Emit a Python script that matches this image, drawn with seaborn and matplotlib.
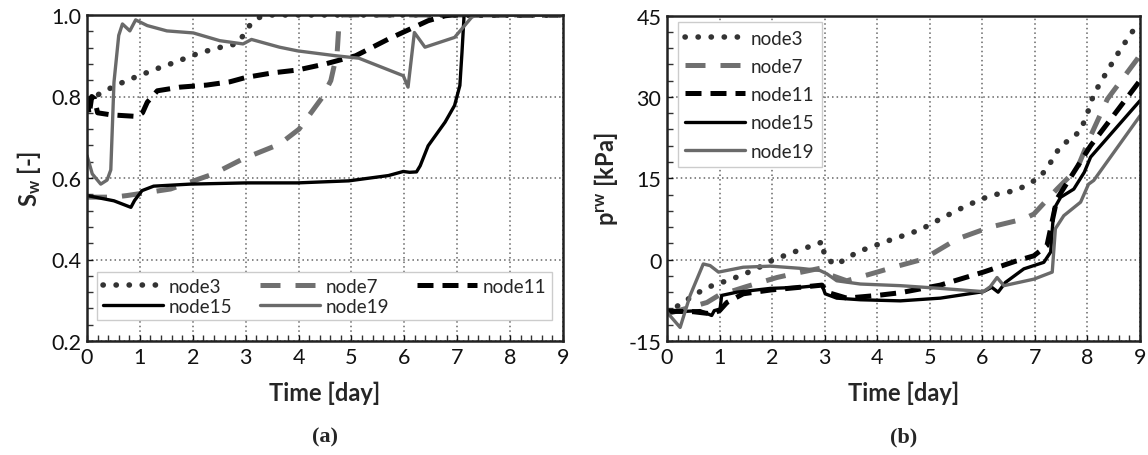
import numpy as np
import pandas as pd
import matplotlib
matplotlib.use("Agg")
import matplotlib.pyplot as plt
from matplotlib.ticker import MultipleLocator
import seaborn as sns

# ---------------- data: panel (a) saturation ----------------
a_node3_t = [0, 0.29, 0.51, 0.75, 0.98, 1.2, 1.44, 1.67, 1.9, 2.13, 2.36, 2.59, 2.83, 2.95, 3.08, 3.26, 3.4, 9]
a_node3_v = [0.79, 0.81, 0.825, 0.839, 0.851, 0.862, 0.874, 0.884, 0.896, 0.907, 0.915, 0.923, 0.929, 0.949, 0.975, 0.994, 1.0, 1.0]

a_node7_t = [0, 0.5, 0.76, 1.58, 2.39, 2.95, 3.64, 4.01, 4.45, 4.61, 4.73, 4.77, 4.8, 9]
a_node7_v = [0.553, 0.553, 0.557, 0.573, 0.61, 0.647, 0.683, 0.72, 0.798, 0.839, 0.908, 0.99, 1.0, 1.0]

a_node11_t = [0, 0.04, 0.09, 0.14, 0.2, 0.45, 0.95, 1.05, 1.14, 1.33, 1.76, 2.26, 2.7, 3.01, 3.51, 3.98, 4.51, 5.08, 5.7, 6.45, 6.77, 6.9, 9]
a_node11_v = [0.80, 0.755, 0.80, 0.795, 0.76, 0.755, 0.751, 0.76, 0.786, 0.814, 0.823, 0.828, 0.836, 0.847, 0.858, 0.865, 0.88, 0.90, 0.941, 0.986, 0.998, 1.0, 1.0]

a_node15_t = [0, 0.51, 0.83, 0.9, 1.04, 1.26, 1.95, 3.01, 3.98, 4.95, 5.7, 5.98, 6.1, 6.23, 6.3, 6.45, 6.77, 6.95, 7.05, 7.09, 7.13, 9]
a_node15_v = [0.557, 0.544, 0.528, 0.545, 0.569, 0.58, 0.585, 0.588, 0.588, 0.593, 0.606, 0.616, 0.614, 0.615, 0.63, 0.679, 0.737, 0.778, 0.827, 0.908, 1.0, 1.0]

a_node19_t = [0, 0.1, 0.26, 0.38, 0.45, 0.51, 0.6, 0.67, 0.81, 0.92, 1.14, 1.51, 2.01, 2.51, 2.95, 3.11, 3.64, 3.98, 4.70, 5.14, 5.98, 6.07, 6.19, 6.39, 6.95, 7.27, 7.35, 9]
a_node19_v = [0.655, 0.61, 0.585, 0.595, 0.62, 0.835, 0.95, 0.978, 0.961, 0.988, 0.974, 0.961, 0.956, 0.937, 0.929, 0.94, 0.921, 0.912, 0.90, 0.894, 0.851, 0.823, 0.957, 0.921, 0.945, 0.994, 1.0, 1.0]

# ---------------- data: panel (b) pressure ----------------
b_node3_t = [0, 0.25, 0.66, 0.88, 1.14, 1.36, 1.58, 1.8, 2.03, 2.28, 2.5, 2.74, 2.97, 2.99, 3.2, 3.42, 3.64, 3.88, 4.12, 4.34, 4.82, 5.26, 5.71, 6.15, 6.66, 7.07, 7.23, 7.49, 7.68, 7.87, 8.0, 8.12, 8.38, 8.63, 8.91, 9.0]
b_node3_v = [-10, -8.2, -5.7, -4.7, -3.9, -3.1, -2.2, -1.2, 0.0, 0.9, 1.7, 2.5, 3.3, 0.7, -1.0, 0.2, 1.5, 2.3, 3.2, 3.9, 5.5, 7.8, 10.0, 11.8, 12.8, 15.0, 16.8, 21.0, 22.2, 23.8, 27.0, 30.5, 34.8, 38.8, 42.8, 43.5]

b_node7_t = [0, 0.76, 0.98, 1.5, 2.09, 2.41, 2.91, 3.04, 3.42, 4.0, 4.31, 4.88, 5.52, 6.15, 6.79, 6.98, 7.42, 7.8, 8.06, 8.38, 8.95, 9.0]
b_node7_v = [-10, -7.9, -6.6, -5.0, -3.3, -2.6, -1.6, -2.6, -3.9, -2.3, -1.4, 0.1, 3.8, 6.0, 7.5, 8.4, 13.0, 16.7, 22.8, 29.6, 37.0, 37.8]

b_node11_t = [0, 0.5, 0.85, 1.0, 1.14, 1.45, 1.97, 2.53, 2.95, 3.04, 3.42, 4.0, 4.44, 5.2, 6.02, 6.66, 6.98, 7.23, 7.42, 7.74, 8.06, 9.0]
b_node11_v = [-9.5, -9.6, -10.0, -9.4, -7.9, -6.3, -5.6, -5.1, -4.7, -6.0, -7.1, -6.6, -6.1, -4.7, -2.3, -0.2, 0.7, 2.6, 11.2, 16.1, 21.0, 33.0]

b_node15_t = [0, 0.63, 0.85, 0.9, 1.01, 1.04, 1.33, 1.97, 2.53, 2.95, 3.01, 3.23, 3.68, 4.44, 5.2, 6.02, 6.18, 6.3, 6.44, 6.79, 7.17, 7.3, 7.36, 7.49, 7.74, 7.94, 8.06, 9.0]
b_node15_v = [-9.7, -9.4, -10.3, -9.4, -9.1, -6.6, -6.0, -5.3, -5.1, -4.7, -6.3, -7.1, -7.4, -7.6, -7.1, -5.9, -5.1, -6.0, -4.2, -1.7, -0.5, 1.4, 9.3, 11.5, 13.0, 16.1, 18.9, 29.3]

b_node19_t = [0, 0.25, 0.44, 0.69, 0.82, 0.98, 1.45, 1.97, 2.53, 2.91, 3.04, 3.23, 3.68, 4.44, 5.2, 6.02, 6.15, 6.28, 6.41, 6.98, 7.33, 7.39, 7.55, 7.87, 8.02, 8.12, 9.0]
b_node19_v = [-9.7, -12.5, -6.6, -0.8, -1.1, -2.3, -1.4, -1.2, -1.6, -2.0, -2.6, -3.9, -4.5, -4.8, -5.3, -5.9, -5.0, -3.3, -4.8, -3.6, -2.3, 5.7, 8.1, 10.6, 13.9, 14.6, 26.5]

labels = ["node3", "node7", "node11", "node15", "node19"]
x_ticks = list(range(0, 10))
a_yticks = [0.2, 0.4, 0.6, 0.8, 1.0]
b_yticks = [-15, 0, 15, 30, 45]

# ---------------- styling ----------------
sns.set_theme(style="white")
plt.rcParams["font.family"] = ["Lato", "DejaVu Sans"]
plt.rcParams["mathtext.fontset"] = "custom"
plt.rcParams["mathtext.rm"] = "Lato"
plt.rcParams["mathtext.bf"] = "Lato:bold"
plt.rcParams["mathtext.it"] = "Lato:italic"

styles = [
    dict(color="#333333", lw=4.0, ls=(0, (0.05, 2.3)), dash_capstyle="round"),
    dict(color="#707070", lw=3.6, ls=(0, (4.0, 3.0))),
    dict(color="#000000", lw=3.6, ls=(0, (3.2, 1.8))),
    dict(color="#000000", lw=2.4, ls="-"),
    dict(color="#6a6a6a", lw=2.4, ls="-"),
]

fig = plt.figure(figsize=(11.48, 4.56), dpi=100)
axA = fig.add_axes([87 / 1148, 114 / 456, 476 / 1148, 326 / 456])
axB = fig.add_axes([667 / 1148, 114 / 456, 473 / 1148, 325.5 / 456])

a_series = [(a_node3_t, a_node3_v), (a_node7_t, a_node7_v), (a_node11_t, a_node11_v),
            (a_node15_t, a_node15_v), (a_node19_t, a_node19_v)]
b_series = [(b_node3_t, b_node3_v), (b_node7_t, b_node7_v), (b_node11_t, b_node11_v),
            (b_node15_t, b_node15_v), (b_node19_t, b_node19_v)]


def draw(ax, series):
    for (t, v), lab, st in zip(series, labels, styles):
        df = pd.DataFrame({"t": t, "v": v})
        sns.lineplot(data=df, x="t", y="v", ax=ax, sort=False, estimator=None,
                     label=lab, **st)


draw(axA, a_series)
draw(axB, b_series)


def style_axes(ax, yticks, ymin, ymax, yminor):
    ax.set_xlim(0, 9)
    ax.set_ylim(ymin, ymax)
    ax.set_xticks(x_ticks)
    ax.set_yticks(yticks)
    ax.xaxis.set_minor_locator(MultipleLocator(0.2))
    ax.yaxis.set_minor_locator(MultipleLocator(yminor))
    ax.tick_params(which="both", direction="in", length=4, width=1, color="#333333",
                   bottom=True, left=True, top=False, right=False)
    ax.tick_params(which="major", labelsize=15.5, pad=4, colors="#111111")
    ax.grid(True, which="major", ls=(0, (1, 2)), color="#666666", lw=1.1)
    for s in ax.spines.values():
        s.set_color("#222222")
        s.set_linewidth(1.8)
    ax.set_xlabel("Time [day]", fontsize=17, fontweight="bold", labelpad=10)


style_axes(axA, a_yticks, 0.2, 1.0, 0.04)
axA.set_yticklabels([f"{v:.1f}" for v in a_yticks])
style_axes(axB, b_yticks, -15, 45, 3)
axB.set_yticklabels([str(v) for v in b_yticks])

axA.set_ylabel(r"S$_{\mathbf{w}}$ [-]", fontsize=17, fontweight="bold", labelpad=6)
axB.set_ylabel(r"p$^{\mathbf{rw}}$ [kPa]", fontsize=17, fontweight="bold", labelpad=6)

# legend (a): row-major order node3, node7, node11 / node15, node19
hA, lA = axA.get_legend_handles_labels()
order = [0, 3, 1, 4, 2]
legA = axA.legend([hA[i] for i in order], [lA[i] for i in order],
                  loc="lower left", bbox_to_anchor=(0.022, 0.063, 0.955, 0.131),
                  mode="expand", ncol=3, fontsize=13.5, handlelength=3.2,
                  frameon=True, fancybox=False, framealpha=1, edgecolor="#cccccc",
                  borderaxespad=0, labelspacing=0.15, borderpad=0.3, handletextpad=0.3,
                  columnspacing=1.0)
legB = axB.legend(loc="upper left", bbox_to_anchor=(0.023, 0.98), ncol=1,
                  fontsize=13.5, handlelength=3.2, frameon=True, fancybox=False,
                  framealpha=1, edgecolor="#cccccc", borderaxespad=0,
                  labelspacing=0.6, borderpad=0.4, handletextpad=0.3)

fig.text((87 + 563) / 2 / 1148, 1 - 437 / 456, "(a)", ha="center", va="center",
         fontsize=16, fontweight="bold", family="Liberation Serif")
fig.text((667 + 1140) / 2 / 1148, 1 - 437 / 456, "(b)", ha="center", va="center",
         fontsize=16, fontweight="bold", family="Liberation Serif")

fig.savefig("out.png", dpi=100)
